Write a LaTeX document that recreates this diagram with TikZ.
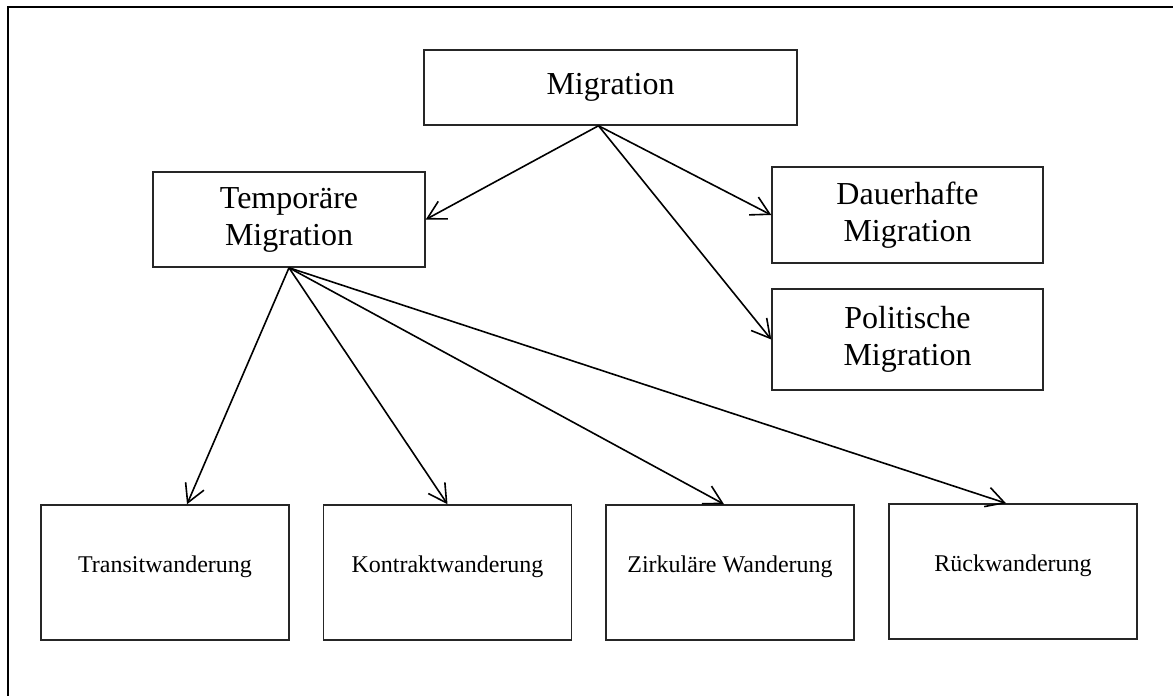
\documentclass[tikz,border=0pt]{standalone}
\usepackage{fontspec}
\setmainfont{Liberation Serif}
\usetikzlibrary{arrows.meta}

\begin{document}
\begin{tikzpicture}[x=1pt, y=-1pt,
                bigbox/.style={rectangle, draw=black!85, line width=1.5pt, align=center, font=\fontsize{32}{37}\selectfont},
                smallbox/.style={rectangle, draw=black!85, line width=1.5pt, minimum width=248pt, minimum height=135pt,
                                 text height=17pt, text depth=17pt, font=\fontsize{24}{28}\selectfont},
                arr/.style={-{Straight Barb[length=18pt, width=20pt]}, line width=1.6pt}]
                \useasboundingbox (0,0) rectangle (1173,696);
                \draw[line width=1.5pt] (8,696) -- (8,7) -- (1173,7);

                \node[bigbox, minimum width=373pt, minimum height=75pt] (mig) at (610.5,87.5) {Migration};
                \node[bigbox, minimum width=272pt, minimum height=95pt] (temp) at (289,219.5) {Temporäre\\Migration};
                \node[bigbox, minimum width=271pt, minimum height=96pt] (dauer) at (907.5,215) {Dauerhafte\\Migration};
                \node[bigbox, minimum width=271pt, minimum height=101pt] (polit) at (907.5,339.5) {Politische\\Migration};

                \node[smallbox] (transit) at (165,572.5) {Transitwanderung};
                \node[smallbox] (kontrakt) at (447.5,572.5) {Kontraktwanderung};
                \node[smallbox] (zirk) at (730,572.5) {Zirkuläre Wanderung};
                \node[smallbox] (rueck) at (1013,571.5) {Rückwanderung};

                \draw[arr] ([xshift=-12pt]mig.south) -- (temp.east);
                \draw[arr] ([xshift=-12pt]mig.south) -- (dauer.west);
                \draw[arr] ([xshift=-12pt]mig.south) -- (polit.west);

                \draw[arr] (temp.south) -- ([xshift=22pt]transit.north);
                \draw[arr] (temp.south) -- (kontrakt.north);
                \draw[arr] (temp.south) -- ([xshift=-6pt]zirk.north);
                \draw[arr] (temp.south) -- ([xshift=-7pt]rueck.north);
            \end{tikzpicture}
\end{document}
